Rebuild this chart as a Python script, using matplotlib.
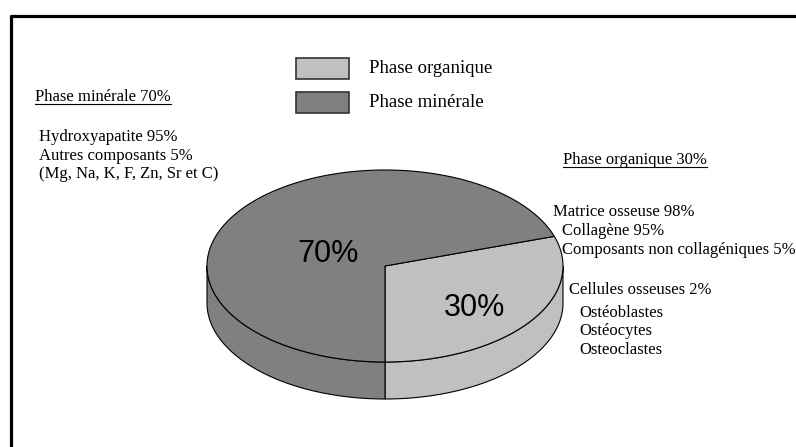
import numpy as np
import matplotlib.pyplot as plt
from matplotlib.patches import Polygon, Rectangle

# data
phases = ["Phase organique", "Phase minérale"]
shares = [30, 70]
colors = ["#c0c0c0", "#808080"]
pct_labels = ["30%", "70%"]

left_title = "Phase minérale 70%"
left_lines = ["Hydroxyapatite 95%", "Autres composants 5%", "(Mg, Na, K, F, Zn, Sr et C)"]
right_title = "Phase organique 30%"
right_lines = [("Matrice osseuse 98%", 553, 212),
               ("Collagène 95%", 562, 231),
               ("Composants non collagéniques 5%", 562, 250),
               ("Cellules osseuses 2%", 569, 290),
               ("Ostéoblastes", 579, 313),
               ("Ostéocytes", 579, 331),
               ("Osteoclastes", 579, 350)]

serif = "Liberation Serif"
sans = "Liberation Sans"

W, H = 796, 447
fig = plt.figure(figsize=(W / 100, H / 100), dpi=100)
ax = fig.add_axes([0, 0, 1, 1])
ax.set_xlim(0, W)
ax.set_ylim(H, 0)
ax.axis("off")

# frame (only left and top sides visible)
ax.plot([11, 11, W + 5], [H + 5, 16, 16], color="black", lw=2.3, solid_capstyle="butt")

# pie geometry in pixel units
cx, cy, rx, ry, depth = 385, 266, 178, 96, 37
start = -90.0


def rim(t):
    t = np.radians(t)
    return cx + rx * np.cos(t), cy - ry * np.sin(t)


angles = []
a = start
for v in shares:
    a2 = a + 360.0 * v / sum(shares)
    angles.append((a, a2))
    a = a2

# side walls (only the front half, 180..360 deg)
for (a1, a2), col in zip(angles, colors):
    for off in (0, 360, -360):
        lo = max(a1 + off, 180)
        hi = min(a2 + off, 360)
        if hi <= lo:
            continue
        t = np.linspace(lo, hi, 100)
        xs, ys = rim(t)
        pts = np.column_stack([np.r_[xs, xs[::-1]], np.r_[ys, ys[::-1] + depth]])
        ax.add_patch(Polygon(pts, closed=True, fc=col, ec="black", lw=0.8, zorder=2))

# top
for (a1, a2), col in zip(angles, colors):
    t = np.linspace(a1, a2, 300)
    xs, ys = rim(t)
    pts = np.column_stack([np.r_[cx, xs], np.r_[cy, ys]])
    ax.add_patch(Polygon(pts, closed=True, fc=col, ec="black", lw=0.8, zorder=3))

# percentage labels
label_pos = [(475, 308), (328, 254)]
for lab, (x, y) in zip(pct_labels, label_pos):
    ax.text(x, y, lab, family=sans, fontsize=22, ha="center", va="center", zorder=4)

# legend
for i, (name, col) in enumerate(zip(phases, colors)):
    y0 = 58 + i * 34
    ax.add_patch(Rectangle((296, y0), 53, 21, fc=col, ec="#333333", lw=1.2))
    ax.text(369, y0 + 10.5, name, family=serif, fontsize=13.5, va="center")

# annotations
underlined = []
underlined.append(ax.text(35, 97, left_title, family=serif, fontsize=12, va="center"))
for i, s in enumerate(left_lines):
    ax.text(39, 137 + i * 18.5, s, family=serif, fontsize=12, va="center")
underlined.append(ax.text(563, 160, right_title, family=serif, fontsize=12, va="center"))
for s, x, y in right_lines:
    ax.text(x, y, s, family=serif, fontsize=12, va="center")

fig.canvas.draw()
inv = ax.transData.inverted()
for t in underlined:
    bb = t.get_window_extent()
    (x0, y0), (x1, _) = inv.transform([[bb.x0, bb.y0], [bb.x1, bb.y0]])
    ax.plot([x0, x1], [y0 - 1, y0 - 1], color="black", lw=0.8)

fig.savefig("out.png", dpi=100)
